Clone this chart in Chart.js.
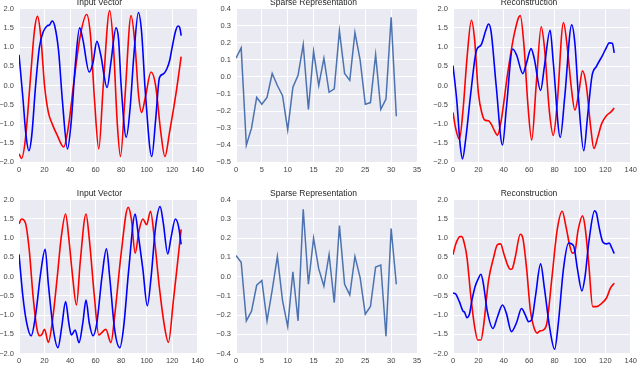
<!DOCTYPE html>
<html lang="en">
<head>
<meta charset="UTF-8">
<title>Input Vector / Sparse Representation / Reconstruction</title>
<script src="https://cdn.jsdelivr.net/npm/chart.js"></script>
<style>
  body { margin: 0; width: 640px; height: 366px; overflow: hidden; background: #fff; }
  .panel { position: absolute; }
</style>
</head>
<body>
<div class="panel" style="left:0;top:-2px;width:207px;height:180px"><canvas id="c1"></canvas></div>
<div class="panel" style="left:210px;top:-2px;width:215px;height:180px"><canvas id="c2"></canvas></div>
<div class="panel" style="left:425px;top:-2px;width:215px;height:180px"><canvas id="c3"></canvas></div>
<div class="panel" style="left:0;top:189px;width:207px;height:177px"><canvas id="c4"></canvas></div>
<div class="panel" style="left:210px;top:189px;width:215px;height:177px"><canvas id="c5"></canvas></div>
<div class="panel" style="left:425px;top:189px;width:215px;height:177px"><canvas id="c6"></canvas></div>

<script>
// tick values
const curveXTicks = [0, 20, 40, 60, 80, 100, 120, 140];
const curveYTicks = [-2.0, -1.5, -1.0, -0.5, 0.0, 0.5, 1.0, 1.5, 2.0];
const sparseXTicks = [0, 5, 10, 15, 20, 25, 30, 35];
const sparseTopYTicks = [-0.5, -0.4, -0.3, -0.2, -0.1, 0.0, 0.1, 0.2, 0.3, 0.4];
const sparseBotYTicks = [-0.4, -0.3, -0.2, -0.1, 0.0, 0.1, 0.2, 0.3, 0.4];

// top row, input vector
const in1RedX = [0,2,5,9,12,14.5,17,20,23,26,30,35,39,43,48,53,56,59,62.5,66,71,74,77,79.5,83,87.8,91,93.5,96,99,103.4,107,111,114.3,118,123,127];
const in1RedY = [-1.78,-1.9,-1.4,0.2,1.4,1.8,1.3,0,-0.7,-1.0,-1.3,-1.6,-1.0,0.1,1.3,1.85,1.3,-0.3,-1.65,0,1.95,1.0,-1.0,-1.85,-0.3,1.82,1.0,-0.2,-0.7,-0.3,0.35,0,-1.2,-1.85,-1.2,-0.2,0.75];
const in1BlueX = [0,3,5.5,7.8,10,13,16,19,22,24,26,28,31,34,38,41,44,47.5,50,55,58,61,64,69,72,76,78,80,84,87,90,93.5,96,99,104,107,110,113,116,118,120,122.5,124.5,126,127];
const in1BlueY = [0.8,-0.3,-1.3,-1.7,-1.3,0,1.0,1.4,1.55,1.58,1.68,1.55,0.9,-0.4,-1.65,-0.9,0.5,1.5,1.2,0.35,0.6,1.15,0.8,-0.05,0.6,1.5,1.2,0,-1.35,-0.6,0.8,1.9,1.4,-0.2,-1.85,-0.9,0.2,0.3,0.45,0.65,1.0,1.4,1.55,1.5,1.3];

// top row, sparse code
const sparseTop = [0.11,0.17,-0.40,-0.30,-0.12,-0.16,-0.12,0.02,-0.05,-0.11,-0.31,-0.06,0.01,0.19,-0.19,0.15,-0.05,0.11,-0.09,-0.07,0.27,0.02,-0.02,0.26,0.10,-0.16,-0.15,0.13,-0.19,-0.13,0.35,-0.23];

// top row, reconstruction
const rec1RedX = [0,2,5,8,11,14.5,17,20,23,25,28,30,33,35,38,43,48,53,56,59,62,65.5,69.5,72,76,79,82,87,90,93,96,99,102,105,108.5,111,114,117,121,124,127];
const rec1RedY = [-0.7,-1.1,-1.4,-0.6,0.7,1.7,1.2,-0.2,-0.75,-0.9,-0.92,-1.0,-1.2,-1.3,-0.9,0.3,1.3,1.82,1.0,-0.5,-1.42,0,1.53,1.0,-0.7,-1.3,-0.5,1.64,1.0,0,-0.64,-0.2,0.38,0,-1.1,-1.64,-1.35,-1.0,-0.78,-0.7,-0.59];
const rec1BlueX = [0,3,5.5,7.5,10,14,18.5,22,26,28,30,34,39,42,47,50,55,58,61.5,64,69,72,76.5,79,84.5,88,93.5,96,99,103,106,109.5,113,118,121,123,125.5,127];
const rec1BlueY = [0.52,-0.4,-1.5,-1.91,-1.4,-0.2,0.92,1.05,1.45,1.6,1.4,0,-1.55,-0.6,0.95,0.8,0.31,0.6,0.96,0.7,-0.13,0.5,1.44,0.6,-1.35,-0.3,1.58,1.1,-0.4,-1.7,-0.8,0.25,0.5,0.8,1.0,1.11,1.1,0.85];

// bottom row, input vector
const in2RedX = [0,2,5,8,11,14,16.3,18,20,23,26,30,33,36.5,39,42,45,48,52.5,55,59,62.5,65,68,72,75,80,85.5,88,91,94,97,100,103,106,110,114,117,121,124,127];
const in2RedY = [1.37,1.5,1.4,0.7,-0.5,-1.35,-1.54,-1.5,-1.37,-1.71,-1.2,0,1.0,1.63,1.0,0,-0.74,0.4,1.63,1.0,-0.5,-1.52,-1.45,-1.37,-1.72,-1.0,0.6,1.8,1.5,0.61,1.2,1.5,1.35,1.7,1.0,-0.3,-1.3,-1.71,-0.6,0.3,1.23];
const in2BlueX = [0,3,6,9.5,13,17,20.5,23,27,30.5,33.5,36.5,39,41,44,47,50,52.5,55,58,61,65,68.5,71,75,79,82,86,91,93,97,100.5,103.5,107,110.5,113,116.5,119,122.5,125,127];
const in2BlueY = [0.58,-0.5,-1.2,-1.54,-1.0,0.1,0.71,-0.2,-1.4,-1.85,-1.3,-0.65,-1.2,-1.52,-1.39,-1.72,-1.2,-0.61,-1.2,-1.54,-1.2,0,0.72,0,-1.4,-1.85,-1.3,0.2,1.63,1.2,0.2,-0.76,0,1.3,1.82,1.4,0.59,1.0,1.5,1.3,0.84];

// bottom row, sparse code
const sparseBot = [0.11,0.075,-0.23,-0.18,-0.045,-0.02,-0.23,-0.07,0.105,-0.125,-0.26,0.025,-0.23,0.35,-0.04,0.20,0.04,-0.05,0.115,-0.135,0.265,-0.04,-0.095,0.105,-0.005,-0.195,-0.155,0.05,0.06,-0.31,0.25,-0.04];

// bottom row, reconstruction
const rec2RedX = [0,2,5.5,7,9,11,14,17,19.5,22,24,28,32,35,37.5,40,43,45,46.5,49,53,55,58,61,64,66.5,68,71,74,78,82,86,89,92,94,96,98.5,102,104,107,110,113,117,121,124,127];
const rec2RedY = [0.57,0.83,1.04,1.04,0.85,0.5,-0.5,-1.3,-1.65,-1.65,-1.3,-0.1,0.5,0.83,0.85,0.6,0.3,0.19,0.2,0.5,1.1,1.0,0.2,-0.9,-1.35,-1.47,-1.42,-1.39,-1.2,0,1.2,1.7,1.3,0.8,0.61,0.65,1.2,1.58,1.3,0.3,-0.78,-0.78,-0.7,-0.55,-0.3,-0.17];
const rec2BlueX = [0,2,5,8,9,11,13,15,17.5,20,22,24,27,31.5,35,39,42,46,50,54,57,59.5,62,65,69,72,76,80,83,87,91,95,98,101.5,104,107,111.5,113,115,118,121,123,125,127];
const rec2BlueY = [-0.43,-0.45,-0.65,-0.9,-0.92,-1.07,-0.97,-0.6,-0.25,-0.05,0.06,-0.2,-0.9,-1.35,-1.05,-0.74,-0.95,-1.43,-1.2,-0.83,-1.0,-1.17,-1.12,-0.5,0.33,-0.3,-1.3,-1.89,-1.2,0.2,0.87,0.8,0.2,-0.37,0,0.9,1.71,1.65,1.3,0.9,0.85,0.87,0.75,0.6];

const textColor = '#444';
const tickFont = { family: 'Liberation Sans', size: 7.5 };

function pts(xs, ys) {
    return xs.map((x, i) => ({ x: x, y: ys[i] }));
}

function fmtY(v) {
    return v.toFixed(1).replace('-', '\u2212');
}

// seaborn style grey axes background
const axesBg = {
    id: 'axesBg',
    beforeDraw(chart) {
        const a = chart.chartArea;
        const ctx = chart.ctx;
        ctx.save();
        ctx.fillStyle = '#EAEAF2';
        ctx.fillRect(a.left, a.top, a.width, a.height);
        ctx.restore();
    }
};

function curveLine(data, color) {
    return {
        data: data,
        borderColor: color,
        borderWidth: 1.6,
        pointRadius: 0,
        fill: false,
        cubicInterpolationMode: 'monotone'
    };
}

function makePanel(id, title, datasets, xTicks, yTicks, yW, xH, padR) {
    new Chart(document.getElementById(id), {
        type: 'line',
        data: { datasets: datasets },
        options: {
            responsive: true,
            maintainAspectRatio: false,
            animation: false,
            layout: { padding: { left: 0, right: padR, top: 0, bottom: 0 } },
            plugins: {
                legend: { display: false },
                tooltip: { enabled: false },
                title: {
                    display: true,
                    text: title,
                    color: '#262626',
                    font: { family: 'Liberation Sans', size: 8.5, weight: 'normal' },
                    padding: { top: 0, bottom: 0.5 }
                }
            },
            scales: {
                x: {
                    type: 'linear',
                    min: xTicks[0],
                    max: xTicks[xTicks.length - 1],
                    afterBuildTicks: s => { s.ticks = xTicks.map(v => ({ value: v })); },
                    afterFit: s => { s.height = xH; },
                    grid: { color: '#ffffff', lineWidth: 1, drawTicks: false },
                    border: { display: false },
                    ticks: { color: textColor, font: tickFont, padding: 3, maxRotation: 0, autoSkip: false, callback: v => String(v) }
                },
                y: {
                    min: yTicks[0],
                    max: yTicks[yTicks.length - 1],
                    afterBuildTicks: s => { s.ticks = yTicks.map(v => ({ value: v })); },
                    afterFit: s => { s.width = yW; },
                    grid: { color: '#ffffff', lineWidth: 1, drawTicks: false },
                    border: { display: false },
                    ticks: { color: textColor, font: tickFont, padding: 5, autoSkip: false, callback: v => fmtY(v) }
                }
            }
        },
        plugins: [axesBg]
    });
}

makePanel('c1', 'Input Vector', [
    curveLine(pts(in1BlueX, in1BlueY), '#0000ff'),
    curveLine(pts(in1RedX, in1RedY), '#ff0000')
], curveXTicks, curveYTicks, 19, 15.7, 8);

makePanel('c2', 'Sparse Representation', [
    { data: sparseTop.map((v, i) => ({ x: i, y: v })), borderColor: '#4C72B0', borderWidth: 1.5, pointRadius: 0, tension: 0 }
], sparseXTicks, sparseTopYTicks, 26, 15.7, 8);

makePanel('c3', 'Reconstruction', [
    curveLine(pts(rec1BlueX, rec1BlueY), '#0000ff'),
    curveLine(pts(rec1RedX, rec1RedY), '#ff0000')
], curveXTicks, curveYTicks, 28, 15.7, 7);

makePanel('c4', 'Input Vector', [
    curveLine(pts(in2BlueX, in2BlueY), '#0000ff'),
    curveLine(pts(in2RedX, in2RedY), '#ff0000')
], curveXTicks, curveYTicks, 19, 12.5, 8);

makePanel('c5', 'Sparse Representation', [
    { data: sparseBot.map((v, i) => ({ x: i, y: v })), borderColor: '#4C72B0', borderWidth: 1.5, pointRadius: 0, tension: 0 }
], sparseXTicks, sparseBotYTicks, 26, 12.5, 8);

makePanel('c6', 'Reconstruction', [
    curveLine(pts(rec2BlueX, rec2BlueY), '#0000ff'),
    curveLine(pts(rec2RedX, rec2RedY), '#ff0000')
], curveXTicks, curveYTicks, 28, 12.5, 7);
</script>
</body>
</html>
